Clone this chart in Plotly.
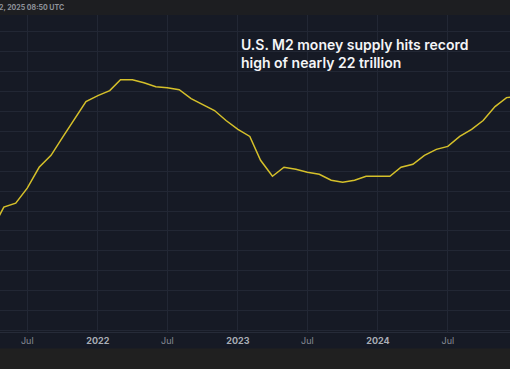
import plotly.graph_objects as go

# Monthly U.S. M2 money supply (trillions USD)
months = [
    "2021-04-01", "2021-05-01", "2021-06-01", "2021-07-01", "2021-08-01", "2021-09-01",
    "2021-10-01", "2021-11-01", "2021-12-01",
    "2022-01-01", "2022-02-01", "2022-03-01", "2022-04-01", "2022-05-01", "2022-06-01",
    "2022-07-01", "2022-08-01", "2022-09-01", "2022-10-01", "2022-11-01", "2022-12-01",
    "2023-01-01", "2023-02-01", "2023-03-01", "2023-04-01", "2023-05-01", "2023-06-01",
    "2023-07-01", "2023-08-01", "2023-09-01", "2023-10-01", "2023-11-01", "2023-12-01",
    "2024-01-01", "2024-02-01", "2024-03-01", "2024-04-01", "2024-05-01", "2024-06-01",
    "2024-07-01", "2024-08-01", "2024-09-01", "2024-10-01", "2024-11-01", "2024-12-01",
    "2025-01-01",
]
m2_trillions = [
    20.22, 20.44, 20.48, 20.63, 20.84, 20.96,
    21.14, 21.32, 21.50,
    21.56, 21.61, 21.72, 21.72, 21.69, 21.65,
    21.64, 21.62, 21.53, 21.47, 21.41, 21.31,
    21.22, 21.15, 20.91, 20.75, 20.84, 20.82,
    20.79, 20.77, 20.71, 20.69, 20.71, 20.75,
    20.75, 20.75, 20.84, 20.87, 20.96, 21.02,
    21.05, 21.15, 21.22, 21.31, 21.45, 21.54,
    21.55,
]

tick_dates = ["2021-07-01", "2022-01-01", "2022-07-01", "2023-01-01",
              "2023-07-01", "2024-01-01", "2024-07-01"]
tick_labels = ["Jul", "2022", "Jul", "2023", "Jul", "2024", "Jul"]

title_lines = ["U.S. M2 money supply hits record", "high of nearly 22 trillion"]
timestamp = "2, 2025 08:50 UTC"

NAVY = "#161a25"
GRID = "#222734"


def fmt_tick(lbl):
    if lbl.isdigit():
        return f"<b><span style='color:#a9adb5'>{lbl}</span></b>"
    return lbl


fig = go.Figure()
fig.add_trace(go.Scatter(
    x=months, y=m2_trillions, mode="lines",
    line=dict(color="#d5c02a", width=1.5),
    hoverinfo="skip", showlegend=False,
))

fig.update_layout(
    width=510, height=369,
    margin=dict(l=0, r=0, t=15, b=37),
    paper_bgcolor="#202020",
    plot_bgcolor=NAVY,
    font=dict(family="Inter, Roboto, sans-serif", color="#858a94", size=9),
    xaxis=dict(
        range=["2021-04-21", "2024-12-10"],
        tickvals=tick_dates,
        ticktext=[fmt_tick(t) for t in tick_labels],
        showgrid=True, gridcolor=GRID, gridwidth=1,
        zeroline=False, ticks="", showline=True, linecolor="#262b38",
        tickfont=dict(size=9, color="#858a94"),
        fixedrange=True,
    ),
    yaxis=dict(
        range=[19.185, 22.37],
        tick0=19.2, dtick=0.2,
        showgrid=True, gridcolor=GRID, gridwidth=1,
        showticklabels=False, zeroline=False, ticks="",
        fixedrange=True,
    ),
    shapes=[
        # top timestamp bar
        dict(type="rect", xref="paper", yref="paper", x0=0, x1=1,
             y0=1, y1=1 + 15 / 317, fillcolor="#1d1e21", line=dict(width=0),
             layer="below"),
        # tick label band
        dict(type="rect", xref="paper", yref="paper", x0=0, x1=1,
             y0=-16.5 / 317, y1=0, fillcolor=NAVY, line=dict(width=0),
             layer="below"),
    ],
    annotations=[
        dict(text="<br>".join(title_lines), xref="paper", yref="paper",
             x=239 / 510, y=1 - 19 / 317, xanchor="left", yanchor="top",
             align="left", showarrow=False,
             font=dict(family="Inter, sans-serif", size=14, color="#f4f5f7",
                       weight=600)),
        dict(text=timestamp, xref="paper", yref="paper",
             x=-0.006, y=1 + 7.5 / 317, xanchor="left", yanchor="middle",
             showarrow=False,
             font=dict(family="Inter, sans-serif", size=7, color="#8f939b",
                       weight=700)),
    ],
)

fig.write_html(
    "out.html",
    config={"displayModeBar": False},
    post_script="document.body.style.margin='0';document.body.style.background='#202020';",
)
